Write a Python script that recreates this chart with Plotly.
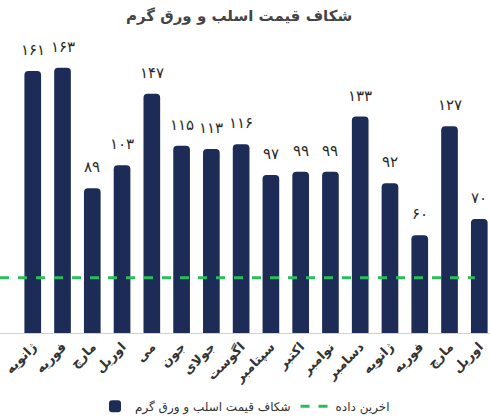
import plotly.graph_objects as go

months = ["ژانویه", "فوریه", "مارچ", "اوریل", "می", "جون", "جولای", "اگوست",
          "سپتامبر", "اکتبر", "نوامبر", "دسامبر", "ژانویه", "فوریه", "مارچ", "اوریل"]
gap_values = [161, 163, 89, 103, 147, 115, 113, 116, 97, 99, 99, 133, 92, 60, 127, 70]
last_data = 34

title_text = "شکاف قیمت اسلب و ورق گرم"
bar_name = "شکاف قیمت اسلب و ورق گرم"
line_name = "اخرین داده"

FONT = "DejaVu Sans"
BAR_COLOR = "#1d2c57"
LINE_COLOR = "#2bbd5b"

def fa_digits(n):
    return str(n).translate(str.maketrans("0123456789", "۰۱۲۳۴۵۶۷۸۹"))

idx = list(range(len(months)))
x_range = [-1.1, len(months) - 0.64]

fig = go.Figure()
fig.add_trace(go.Bar(
    x=idx, y=gap_values, name=bar_name,
    marker=dict(color=BAR_COLOR, cornerradius=4, line=dict(width=0)),
    width=0.56,
))
fig.add_trace(go.Scatter(
    x=[x_range[0], len(months) - 1.15], y=[last_data, last_data],
    mode="lines", name=line_name,
    line=dict(color=LINE_COLOR, width=3, dash="dash"),
))

for i, v in zip(idx, gap_values):
    fig.add_annotation(x=i, y=v, text=fa_digits(v), showarrow=False,
                       yanchor="bottom", yshift=10,
                       font=dict(family=FONT, size=15, color="#2a2a2a"))

fig.update_layout(
    width=490, height=418,
    margin=dict(l=0, r=0, t=40, b=85, autoexpand=False),
    paper_bgcolor="white", plot_bgcolor="white",
    title=dict(text="<b>" + title_text + "</b>", x=0.488, xanchor="center", y=0.962, yanchor="middle",
               font=dict(family=FONT, size=15, color="#444444")),
    xaxis=dict(range=x_range, tickmode="array", tickvals=idx,
               ticktext=["<b>" + m + "</b>" for m in months],
               tickangle=-45, showgrid=False, zeroline=False, showline=True,
               linecolor="#d0d0d0", linewidth=1, ticks="", automargin=False,
               tickfont=dict(family=FONT, size=13, color="#333333")),
    yaxis=dict(range=[0, 180], visible=False, showgrid=False, zeroline=False, automargin=False),
    legend=dict(orientation="h", x=0.5, xanchor="center", y=-0.25, yanchor="middle",
                font=dict(family=FONT, size=12, color="#333333"), traceorder="normal"),
    showlegend=True,
)

fig.write_html("out.html", config={"displayModeBar": False},
               post_script="document.body.style.margin='0';")
